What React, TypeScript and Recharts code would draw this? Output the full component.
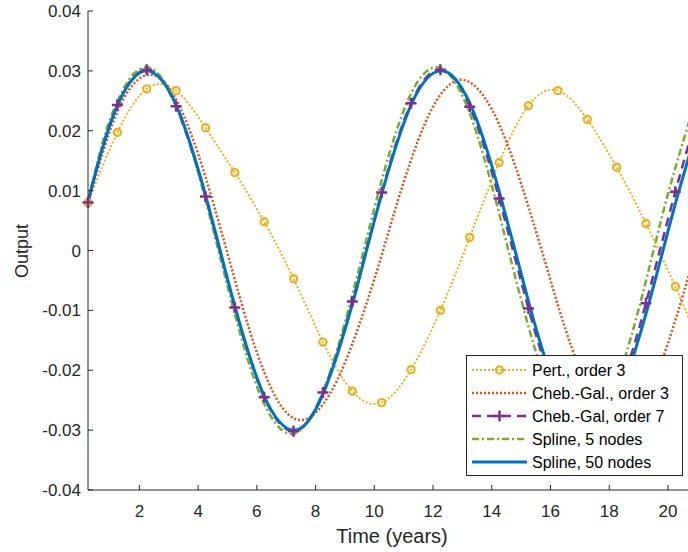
import React from 'react'
import { LineChart, Line, XAxis, YAxis, Label } from 'recharts'

// time axis, half-year steps (years)
const times = [
  0.25, 0.75, 1.25, 1.75, 2.25, 2.75, 3.25, 3.75, 4.25, 4.75, 5.25, 5.75, 6.25, 6.75,
  7.25, 7.75, 8.25, 8.75, 9.25, 9.75, 10.25, 10.75, 11.25, 11.75, 12.25, 12.75, 13.25,
  13.75, 14.25, 14.75, 15.25, 15.75, 16.25, 16.75, 17.25, 17.75, 18.25, 18.75, 19.25,
  19.75, 20.25, 20.75,
]

// perturbation, order 3 (only sampled yearly)
const pert = [
  0.008, null, 0.0197, null, 0.027, null, 0.0267, null, 0.0205, null, 0.013, null,
  0.0048, null, -0.0047, null, -0.0153, null, -0.0235, null, -0.0254, null, -0.0199,
  null, -0.01, null, 0.0022, null, 0.0147, null, 0.0242, null, 0.0267, null, 0.0219,
  null, 0.0139, null, 0.0045, null, -0.006, -0.0118,
]

const chebGal3 = [
  0.008, 0.0163, 0.0232, 0.0275, 0.0293, 0.0286, 0.0252, 0.0196, 0.0123, 0.0039,
  -0.0049, -0.0133, -0.0203, -0.0254, -0.028, -0.028, -0.0257, -0.0215, -0.0156,
  -0.0086, -0.0008, 0.0075, 0.0151, 0.0215, 0.026, 0.0283, 0.0281, 0.0256, 0.0211,
  0.0148, 0.0073, -0.0008, -0.0091, -0.0166, -0.0226, -0.0267, -0.0284, -0.0277,
  -0.0244, -0.0189, -0.0117, -0.0034,
]

const chebGal7 = [
  0.008, 0.0175, 0.0243, 0.0287, 0.0302, 0.0286, 0.0241, 0.0172, 0.009, -0.0003,
  -0.0095, -0.0178, -0.0245, -0.0287, -0.0302, -0.0285, -0.0237, -0.0168, -0.0085,
  0.0006, 0.0097, 0.018, 0.0246, 0.0288, 0.0302, 0.0285, 0.024, 0.0172, 0.0087,
  -0.0005, -0.0097, -0.018, -0.0246, -0.0288, -0.0302, -0.0287, -0.0242, -0.0174,
  -0.0088, 0.0005, 0.0098, 0.0185,
]

const spline5 = [
  0.008, 0.0181, 0.0249, 0.0292, 0.0306, 0.0289, 0.0243, 0.0173, 0.0085, -0.0011,
  -0.0106, -0.0191, -0.0256, -0.0295, -0.0306, -0.0285, -0.0236, -0.0163, -0.0074,
  0.0022, 0.0117, 0.0199, 0.0262, 0.0298, 0.0305, 0.0281, 0.0229, 0.0153, 0.0062,
  -0.0035, -0.0127, -0.0208, -0.0268, -0.0301, -0.0303, -0.0276, -0.0221, -0.0143,
  -0.0051, 0.0048, 0.0138, 0.022,
]

const spline50 = [
  0.0082, 0.0172, 0.0242, 0.0285, 0.03, 0.0285, 0.0243, 0.0176, 0.0093, 0.0,
  -0.0093, -0.0176, -0.0243, -0.0285, -0.03, -0.0285, -0.024, -0.0172, -0.009,
  0.0003, 0.0094, 0.0176, 0.0243, 0.0285, 0.03, 0.0287, 0.0246, 0.0181, 0.0099,
  0.0008, -0.0085, -0.017, -0.0238, -0.0283, -0.03, -0.029, -0.025, -0.0187,
  -0.0106, -0.0015, 0.0078, 0.0163,
]

const xTicks = [2, 4, 6, 8, 10, 12, 14, 16, 18, 20]
const yTicks = [-0.04, -0.03, -0.02, -0.01, 0, 0.01, 0.02, 0.03, 0.04]

const seriesNames = [
  'Pert., order 3',
  'Cheb.-Gal., order 3',
  'Cheb.-Gal, order 7',
  'Spline, 5 nodes',
  'Spline, 50 nodes',
]

const YELLOW = '#EDB120'
const RED = '#D95319'
const PURPLE = '#7E2F8E'
const GREEN = '#77AC30'
const BLUE = '#0072BD'
const INK = '#262626'
const FONT = '"Liberation Sans", Arial, Helvetica, sans-serif'

const chartData = times.map((t, i) => ({
  t,
  pert: pert[i],
  cg3: chebGal3[i],
  cg7: chebGal7[i],
  sp5: spline5[i],
  sp50: spline50[i],
}))

function XTick({ x, y, payload }: any) {
  return (
    <g>
      <line x1={x} x2={x} y1={y} y2={y - 5} stroke={INK} />
      <text x={x} y={y + 27} textAnchor="middle" fontSize={17} fill={INK} fontFamily={FONT}>
        {payload.value}
      </text>
    </g>
  )
}

function YTick({ x, y, payload }: any) {
  const v = payload.value
  const label = v === 0 ? '0' : v.toFixed(2)
  return (
    <g>
      <line x1={x} x2={x + 5} y1={y} y2={y} stroke={INK} />
      <text x={x - 7} y={y + 6} textAnchor="end" fontSize={17} fill={INK} fontFamily={FONT}>
        {label}
      </text>
    </g>
  )
}

function CircleDot(props: any) {
  const { cx, cy, index, value } = props
  if (value == null || index % 2 !== 0 || cx == null || cy == null) return <g key={`c${index}`} />
  return (
    <circle key={`c${index}`} cx={cx} cy={cy} r={3.6} fill="none" stroke={YELLOW} strokeWidth={2.2} />
  )
}

function PlusDot(props: any) {
  const { cx, cy, index } = props
  if (index % 2 !== 0 || cx == null || cy == null) return <g key={`p${index}`} />
  return (
    <path
      key={`p${index}`}
      d={`M${cx - 5.5},${cy}H${cx + 5.5}M${cx},${cy - 5.5}V${cy + 5.5}`}
      stroke={PURPLE}
      strokeWidth={2.5}
      fill="none"
    />
  )
}

function LegendBox() {
  const rows = [15, 38, 61, 84, 107]
  return (
    <svg
      width={218}
      height={122}
      style={{ position: 'absolute', left: 466, top: 355 }}
    >
      <rect x={0.5} y={0.5} width={216} height={120} fill="#fff" stroke={INK} />
      <line x1={6} x2={61} y1={rows[0]} y2={rows[0]} stroke={YELLOW} strokeWidth={2} strokeDasharray="2 2" />
      <circle cx={33.5} cy={rows[0]} r={3.6} fill="none" stroke={YELLOW} strokeWidth={2.2} />
      <line x1={6} x2={61} y1={rows[1]} y2={rows[1]} stroke={RED} strokeWidth={2.5} strokeDasharray="2 2" />
      <line x1={6} x2={61} y1={rows[2]} y2={rows[2]} stroke={PURPLE} strokeWidth={2.5} strokeDasharray="9 6" />
      <path
        d={`M28,${rows[2]}H39M33.5,${rows[2] - 5.5}V${rows[2] + 5.5}`}
        stroke={PURPLE}
        strokeWidth={2.5}
      />
      <line x1={6} x2={61} y1={rows[3]} y2={rows[3]} stroke={GREEN} strokeWidth={2.5} strokeDasharray="7 3 2 3" />
      <line x1={6} x2={61} y1={rows[4]} y2={rows[4]} stroke={BLUE} strokeWidth={3} />
      {seriesNames.map((name, i) => (
        <text key={name} x={66} y={rows[i] + 6} fontSize={16} fill="#000" fontFamily={FONT}>
          {name}
        </text>
      ))}
    </svg>
  )
}

export default function App() {
  return (
    <div
      style={{
        position: 'relative',
        width: 688,
        height: 552,
        overflow: 'hidden',
        background: '#fff',
      }}
    >
      <style>{'body{margin:0}'}</style>
      <LineChart
        width={690}
        height={552}
        data={chartData}
        margin={{ top: 11, right: 0, bottom: 0, left: 0 }}
      >
        <XAxis
          dataKey="t"
          type="number"
          domain={[0.25, 20.75]}
          ticks={xTicks}
          height={62}
          stroke={INK}
          tickLine={false}
          tickSize={0}
          tickMargin={0}
          tick={<XTick />}
          interval={0}
        >
          <Label
            content={() => (
              <text x={392} y={543} textAnchor="middle" fontSize={20} fill={INK} fontFamily={FONT}>
                Time (years)
              </text>
            )}
          />
        </XAxis>
        <YAxis
          type="number"
          domain={[-0.04, 0.04]}
          ticks={yTicks}
          width={88}
          stroke={INK}
          tickLine={false}
          tickSize={0}
          tickMargin={0}
          tick={<YTick />}
          interval={0}
        >
          <Label
            content={() => (
              <text
                transform="translate(28 251) rotate(-90)"
                textAnchor="middle"
                fontSize={18}
                fill={INK}
                fontFamily={FONT}
              >
                Output
              </text>
            )}
          />
        </YAxis>
        <Line
          dataKey="pert"
          type="natural"
          stroke={YELLOW}
          strokeWidth={2}
          strokeDasharray="2 2"
          connectNulls
          dot={CircleDot}
          activeDot={false}
          isAnimationActive={false}
        />
        <Line
          dataKey="cg3"
          type="natural"
          stroke={RED}
          strokeWidth={2.5}
          strokeDasharray="2 2"
          dot={false}
          activeDot={false}
          isAnimationActive={false}
        />
        <Line
          dataKey="cg7"
          type="natural"
          stroke={PURPLE}
          strokeWidth={2.5}
          strokeDasharray="9 6"
          dot={PlusDot}
          activeDot={false}
          isAnimationActive={false}
        />
        <Line
          dataKey="sp5"
          type="natural"
          stroke={GREEN}
          strokeWidth={2.5}
          strokeDasharray="7 3 2 3"
          dot={false}
          activeDot={false}
          isAnimationActive={false}
        />
        <Line
          dataKey="sp50"
          type="natural"
          stroke={BLUE}
          strokeWidth={3}
          dot={false}
          activeDot={false}
          isAnimationActive={false}
        />
      </LineChart>
      <LegendBox />
    </div>
  )
}
